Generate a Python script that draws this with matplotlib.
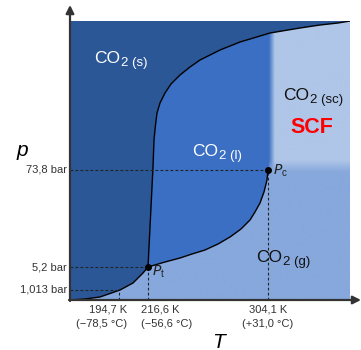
import numpy as np
import matplotlib.pyplot as plt
from matplotlib.path import Path
from matplotlib.patches import PathPatch

plt.rcParams['font.family'] = ['Liberation Sans', 'DejaVu Sans']

# schematic coordinates (not to scale): x = temperature position, y = pressure position
x_max, y_max = 280, 279

# phase boundary curves
subl_x = [0, 15, 30, 50, 63, 73, 78]
subl_y = [0, 1, 3, 10, 17, 27, 33]
melt_x = [78, 83, 84, 85.5, 87, 90, 95, 101, 110, 120, 130, 150, 170, 200, 230,
          250, 268, 280]
melt_y = [33, 133, 160, 175, 187, 197, 207, 216, 225, 233, 240, 250, 258, 267, 272,
          275, 277, 279]
vap_x = [78, 95, 110, 122, 135, 148, 160, 171, 180, 185, 190, 194, 197, 198]
vap_y = [33, 38, 42, 46, 50, 56, 63, 71, 80, 88, 97, 108, 120, 130]

# special points
triple = (78, 33)
critical = (198, 130)

p_ticks = [130, 33, 10]
p_labels = ['73,8 bar', '5,2 bar', '1,013 bar']
T_ticks = [198, 78, 49]
T_labels = ['304,1 K\n(+31,0 °C)', '216,6 K\n(\u221256,6 °C)', '194,7 K\n(\u221278,5 °C)']

c_solid = '#2b5797'
c_liquid = '#3a6fc3'
c_gas = '#87a8dc'
c_scf = '#afc6e8'

fig = plt.figure(figsize=(3.61, 3.50), dpi=100)
ax = fig.add_axes([70/361, 50/350, 280/361, 279/350])
ax.set_xlim(0, x_max)
ax.set_ylim(0, y_max)
ax.axis('off')

# background: gas, with supercritical region fading in
xs = np.linspace(0, x_max, 561)
ys = np.linspace(0, y_max, 559)
X, Y = np.meshgrid(xs, ys)
def ramp(v, a, b):
    return np.clip((v - a) / (b - a), 0, 1)
wy = ramp(Y, 128, 140)
wx = ramp(X, 199, 205)
rgb = lambda c: np.array([int(c[i:i+2], 16) / 255 for i in (1, 3, 5)])
top = rgb(c_liquid) * (1 - wx[..., None]) + rgb(c_scf) * wx[..., None]
img = rgb(c_gas) * (1 - wy[..., None]) + top * wy[..., None]
img = np.where((X < 199)[..., None], rgb(c_gas), img)
ax.imshow(img, extent=[0, x_max, 0, y_max], origin='lower', aspect='auto', zorder=0)

# liquid region
mx = np.array(melt_x); my = np.array(melt_y)
y_at = np.interp(199, mx, my)
keep = mx < 199
liq = list(zip(vap_x, vap_y)) + [(199, 130), (199, y_at)] + \
    list(zip(mx[keep][::-1], my[keep][::-1]))
ax.add_patch(PathPatch(Path(liq), fc=c_liquid, ec='none', zorder=1))

# solid region
sol = list(zip(subl_x, subl_y)) + list(zip(melt_x[1:], melt_y[1:])) + [(0, y_max)]
ax.add_patch(PathPatch(Path(sol), fc=c_solid, ec='none', zorder=2))

# curves
ax.plot(subl_x, subl_y, color='black', lw=1, zorder=3)
ax.plot(melt_x, melt_y, color='black', lw=1, zorder=3)
ax.plot(vap_x, vap_y, color='black', lw=1, zorder=3)

# dashed guides
dash = dict(color='#222222', lw=0.8, ls=(0, (2.5, 2)), zorder=3)
for tx, py in zip(T_ticks, p_ticks):
    ax.plot([0, tx], [py, py], **dash)
    ax.plot([tx, tx], [0, py], **dash)

ax.plot([triple[0], critical[0]], [triple[1], critical[1]], 'o', color='black',
        ms=4, zorder=4)

# axes with arrows
ax.annotate('', xy=(0, 295), xytext=(0, -1), xycoords='data', annotation_clip=False,
            arrowprops=dict(arrowstyle='-|>', color='#333333', lw=1.6,
                            mutation_scale=12, shrinkA=0, shrinkB=0))
ax.annotate('', xy=(291, 0), xytext=(-1, 0), xycoords='data', annotation_clip=False,
            arrowprops=dict(arrowstyle='-|>', color='#333333', lw=1.6,
                            mutation_scale=12, shrinkA=0, shrinkB=0))

# tick labels
for py, lab in zip(p_ticks, p_labels):
    ax.text(-3, py, lab, ha='right', va='center', fontsize=8, color='#333333')
T_pos = [(198, 'center'), (71, 'left'), (57, 'right')]
for (tx, al), lab in zip(T_pos, T_labels):
    ax.text(tx, -5, lab, ha=al, ma=al, va='top', fontsize=8, color='#333333',
            linespacing=1.45)

ax.text(-47.5, 150, 'p', fontsize=15, style='italic', ha='center', va='center')
ax.text(149, -42, 'T', fontsize=15, style='italic', ha='center', va='center')

# phase labels: "CO" then lowered "2 (x)"
def phase(x, y, sub, color):
    t = ax.text(x, y, 'CO', fontsize=12.5, color=color, ha='left',
                va='baseline', zorder=5)
    ax.annotate(sub, xy=(1, 0), xycoords=t, xytext=(0.5, -2),
                textcoords='offset points', fontsize=9.5, color=color,
                ha='left', va='bottom', zorder=5)

phase(24, 237, '2 (s)', 'white')
phase(122, 144, '2 (l)', 'white')
phase(213, 200, '2 (sc)', '#111111')
phase(186, 38, '2 (g)', '#111111')
ax.text(242, 172.5, 'SCF', fontsize=15.5, fontweight='bold', color='red',
        ha='center', va='center', zorder=5)

ax.text(82, 28, r'$P_\mathregular{t}$', fontsize=10, ha='left', va='center',
        color='#222222', zorder=5)
ax.text(203, 129, r'$P_\mathregular{c}$', fontsize=10, ha='left', va='center',
        color='#222222', zorder=5)

fig.savefig('out.png', dpi=100)
